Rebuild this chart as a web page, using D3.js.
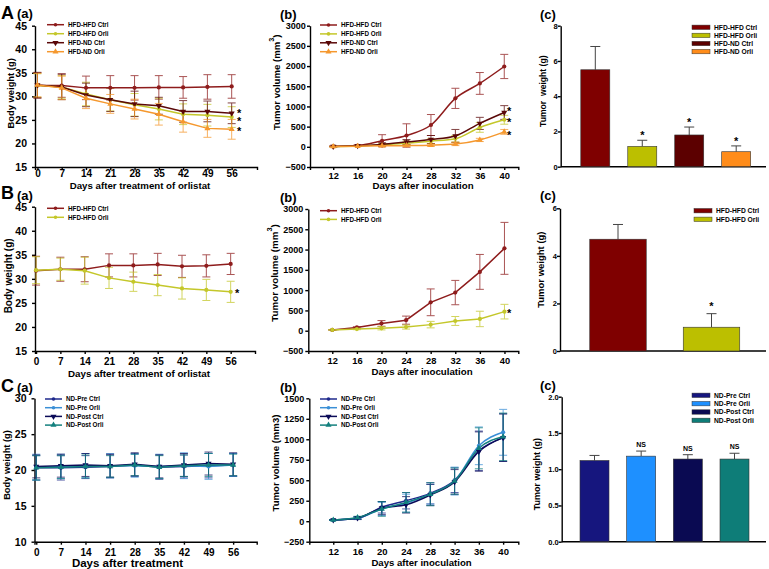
<!DOCTYPE html>
<html><head><meta charset="utf-8">
<script src="https://cdn.jsdelivr.net/npm/d3@7"></script>
<style>body{margin:0;background:#fff}svg{display:block}text{font-family:"Liberation Sans",Arial,Helvetica,sans-serif}</style>
</head><body><svg id="c" width="769" height="569"></svg>
<script>
// ---------- DATA ----------
const treatDays = [0, 7, 14, 21, 28, 35, 42, 49, 56];
const inocDays = [12, 16, 20, 24, 28, 32, 36, 40];
const weightTicksAB = [15, 20, 25, 30, 35, 40, 45];
const volumeTicksAB = [-500, 0, 500, 1000, 1500, 2000, 2500, 3000];
const weightTicksC = [10, 15, 20, 25, 30];
const volumeTicksC = [-250, 0, 250, 500, 750, 1000, 1250, 1500];
const tumorWTicksA = [0, 2, 4, 6, 8];
const tumorWTicksB = [0, 2, 4, 6];
const tumorWTicksC = [0, 0.5, 1.0, 1.5, 2.0];

const groupsHFD = ["HFD-HFD Ctrl", "HFD-HFD Orli", "HFD-ND Ctrl", "HFD-ND Orli"];
const groupsHFD2 = ["HFD-HFD Ctrl", "HFD-HFD Orli"];
const groupsND = ["ND-Pre Ctrl", "ND-Pre Orli", "ND-Post Ctrl", "ND-Post Orli"];

// A(a) body weight
const aW_hhCtrl = [32.3, 32.3, 31.8, 31.8, 31.8, 31.9, 31.9, 32.0, 32.1];
const aW_hhCtrlErr = [2.7, 2.5, 2.5, 2.6, 2.6, 2.5, 2.3, 2.6, 2.5];
const aW_hhOrli = [32.3, 32.0, 30.5, 29.3, 28.2, 27.3, 26.2, 26.0, 25.6];
const aW_hhOrliErr = [2.5, 2.4, 2.5, 2.4, 2.4, 2.3, 2.2, 2.3, 2.2];
const aW_hnCtrl = [32.4, 32.0, 30.3, 29.3, 28.4, 28.0, 26.8, 26.8, 26.4];
const aW_hnCtrlErr = [2.7, 2.7, 2.5, 2.5, 2.7, 1.8, 2.3, 2.2, 2.2];
const aW_hnOrli = [32.4, 31.8, 29.6, 28.4, 27.3, 26.2, 24.6, 23.2, 23.0];
const aW_hnOrliErr = [2.5, 2.5, 2.2, 2.0, 2.1, 2.3, 2.2, 1.9, 2.1];
const aW_stars = [26.7, 25.0, 22.9];

// A(b) tumour volume
const aV_hhCtrl = [10, 30, 150, 280, 540, 1200, 1570, 1990];
const aV_hhCtrlErr = [10, 20, 150, 290, 260, 250, 270, 300];
const aV_hhOrli = [5, 20, 50, 90, 140, 200, 480, 670];
const aV_hhOrliErr = [5, 10, 30, 50, 60, 80, 120, 110];
const aV_hnCtrl = [10, 25, 60, 120, 180, 270, 580, 850];
const aV_hnCtrlErr = [5, 10, 40, 60, 100, 160, 150, 170];
const aV_hnOrli = [5, 15, 25, 30, 40, 70, 170, 370];
const aV_hnOrliErr = [5, 10, 20, 20, 30, 40, 40, 60];
const aV_stars = [912, 647, 335];

// A(c) tumour weight
const aT_values = [5.5, 1.15, 1.8, 0.85];
const aT_errors = [1.32, 0.35, 0.45, 0.33];
const aT_marks = ["", "*", "*", "*"];

// B(a)
const bW_ctrl = [31.7, 32.0, 32.0, 32.8, 32.8, 33.0, 32.6, 32.7, 33.1];
const bW_ctrlErr = [3.0, 2.5, 2.6, 2.4, 2.4, 2.3, 2.3, 2.3, 2.2];
const bW_orli = [31.8, 32.0, 31.7, 30.2, 29.4, 28.7, 28.0, 27.7, 27.3];
const bW_orliErr = [2.8, 2.3, 2.8, 2.2, 2.0, 2.2, 2.2, 2.2, 2.2];
const bW_stars = [27.3];

// B(b)
const bV_ctrl = [20, 80, 180, 260, 700, 940, 1450, 2030];
const bV_ctrlErr = [10, 20, 70, 100, 330, 300, 430, 640];
const bV_orli = [20, 40, 60, 90, 150, 240, 290, 470];
const bV_orliErr = [10, 15, 40, 50, 80, 110, 190, 180];
const bV_stars = [470];

// B(c)
const bT_values = [4.7, 1.0];
const bT_errors = [0.62, 0.57];
const bT_marks = ["", "*"];

// C(a)
const cW_preCtrl = [20.3, 20.3, 20.4, 20.5, 20.7, 20.4, 20.5, 20.6, 20.7];
const cW_preCtrlErr = [1.7, 1.7, 1.6, 1.6, 1.6, 1.7, 1.6, 1.7, 1.6];
const cW_preOrli = [20.4, 20.5, 20.6, 20.6, 20.6, 20.5, 20.6, 20.5, 20.7];
const cW_preOrliErr = [1.8, 1.7, 1.7, 1.7, 1.6, 1.7, 1.8, 1.8, 1.6];
const cW_postCtrl = [20.5, 20.6, 20.7, 20.6, 20.8, 20.5, 20.7, 20.9, 20.8];
const cW_postCtrlErr = [1.6, 1.6, 1.6, 1.6, 1.6, 1.6, 1.6, 1.6, 1.6];
const cW_postOrli = [20.3, 20.4, 20.5, 20.5, 20.7, 20.4, 20.6, 20.7, 20.7];
const cW_postOrliErr = [1.7, 1.6, 1.6, 1.5, 1.5, 1.6, 1.5, 1.6, 1.5];

// C(b)
const cV_preCtrl = [15, 35, 170, 250, 340, 500, 860, 1020];
const cV_preCtrlErr = [5, 15, 70, 100, 130, 150, 240, 290];
const cV_preOrli = [15, 40, 150, 220, 330, 490, 920, 1085];
const cV_preOrliErr = [5, 15, 80, 110, 120, 170, 230, 280];
const cV_postCtrl = [15, 40, 160, 200, 320, 480, 850, 1020];
const cV_postCtrlErr = [5, 15, 80, 100, 130, 150, 240, 290];
const cV_postOrli = [15, 45, 150, 230, 330, 490, 890, 1030];
const cV_postOrliErr = [5, 15, 90, 120, 140, 160, 250, 290];

// C(c)
const cT_values = [1.12, 1.18, 1.14, 1.14];
const cT_errors = [0.07, 0.07, 0.06, 0.08];
const cT_marks = ["", "NS", "NS", "NS"];

// ---------- STYLE ----------
const lineColHFD = ["#8e1c1c", "#c4c72a", "#5a0808", "#f5982e"];
const markHFD = ["circle", "circle", "down", "up"];
const barColHFD = ["#7f0000", "#bcbf00", "#5c0000", "#ff8c1a"];
const lineColND = ["#1f2a8c", "#3a8fd6", "#0b0b58", "#13807e"];
const markND = ["circle", "circle", "down", "up"];
const barColND = ["#16167e", "#1e90ff", "#0a0a52", "#0e7d78"];

const svg = d3.select("#c");
const FONT = '"Liberation Sans", Arial, Helvetica, sans-serif';

function styleAxis(g, fs) {
  g.selectAll("path,line").attr("stroke", "#000").attr("stroke-width", 1.4);
  g.selectAll("text").attr("font-size", fs).attr("font-weight", "bold").attr("fill", "#000").attr("font-family", FONT);
}
function marker(g, m, cx, cy, color, sz) {
  if (m === "circle") {
    g.append("circle").attr("cx", cx).attr("cy", cy).attr("r", sz === undefined ? 2.1 : sz).attr("fill", color);
  } else {
    g.append("path").attr("d", d3.symbol(d3.symbolTriangle, 16)())
      .attr("transform", `translate(${cx},${cy})` + (m === "down" ? " rotate(180)" : ""))
      .attr("fill", color);
  }
}
function text(x, y, s, fs, opts = {}) {
  const t = svg.append("text").attr("x", x).attr("y", y).attr("font-size", fs)
    .attr("font-weight", opts.weight || "bold").attr("fill", "#000")
    .attr("text-anchor", opts.anchor || "start").style("white-space", "pre").text(s);
  return t;
}
function yLabel(x, y, s, fs, sup) {
  const t = svg.append("text").attr("transform", `translate(${x},${y}) rotate(-90)`)
    .attr("font-size", fs).attr("font-weight", "bold").attr("text-anchor", "middle")
    .attr("dominant-baseline", "central").style("white-space", "pre");
  if (sup) {
    t.append("tspan").text(s);
    t.append("tspan").attr("baseline-shift", "super").attr("font-size", fs * 0.75).text(sup);
    t.append("tspan").text(")");
  } else t.text(s);
}

function linePanel(c) {
  const x = d3.scaleLinear().domain(c.xd).range(c.xr);
  const y = d3.scaleLinear().domain(c.yd).range(c.yr);
  const g = svg.append("g");
  const gx = g.append("g").attr("transform", `translate(0,${c.yr[0]})`)
    .call(d3.axisBottom(x).tickValues(c.xTicks).tickFormat(d3.format("d")).tickSize(3).tickSizeOuter(3).tickPadding(c.xPad));
  styleAxis(gx, c.xfs);
  const gy = g.append("g").attr("transform", `translate(${c.xr[0]},0)`)
    .call(d3.axisLeft(y).tickValues(c.yTicks).tickFormat(d3.format("d")).tickSize(3).tickSizeOuter(0).tickPadding(c.yPad));
  styleAxis(gy, c.yfs);

  const series = c.names.map((n, i) => ({
    name: n, color: c.colors[i], mark: c.marks[i],
    pts: c.days.map((d, j) => ({ d, v: c.values[i][j], e: c.errors[i][j] }))
  }));
  series.forEach(s => {
    const eb = g.append("g").attr("stroke", s.color).attr("stroke-width", 1).attr("opacity", 0.75);
    s.pts.forEach(p => {
      const xx = x(p.d), y1 = y(p.v + p.e), y2 = y(p.v - p.e);
      eb.append("line").attr("x1", xx).attr("x2", xx).attr("y1", y1).attr("y2", y2);
      eb.append("line").attr("x1", xx - 4).attr("x2", xx + 4).attr("y1", y1).attr("y2", y1);
      eb.append("line").attr("x1", xx - 4).attr("x2", xx + 4).attr("y1", y2).attr("y2", y2);
    });
  });
  const line = d3.line().x(p => x(p.d)).y(p => y(p.v)).curve(c.curve);
  series.forEach(s => {
    g.append("path").attr("d", line(s.pts)).attr("fill", "none").attr("stroke", s.color).attr("stroke-width", 1.5);
  });
  series.forEach(s => s.pts.forEach(p => marker(g, s.mark, x(p.d), y(p.v), s.color)));

  // legend
  series.forEach((s, i) => {
    const ly = c.leg.y + i * c.leg.dy;
    g.append("line").attr("x1", c.leg.x).attr("x2", c.leg.x + 17).attr("y1", ly).attr("y2", ly)
      .attr("stroke", s.color).attr("stroke-width", 1.5);
    marker(g, s.mark, c.leg.x + 8.5, ly, s.color, 1.8);
    text(c.leg.x + 21, ly + c.leg.fs * 0.36, s.name, c.leg.fs);
  });
  // stars
  (c.stars || []).forEach(v => text(c.starX, y(v) + 5.5, "*", 11));
  // labels
  text(c.xl.x, c.xl.y, c.xl.text, c.xl.fs, { anchor: "middle" });
  yLabel(c.yl.x, (c.yr[0] + c.yr[1]) / 2 + (c.yl.dy || 0), c.yl.text, c.yl.fs, c.yl.sup);
}

function barPanel(c) {
  const y = d3.scaleLinear().domain(c.yd).range(c.yr);
  const x = d3.scalePoint().domain(c.names).range(c.centers);
  const g = svg.append("g");
  const gy = g.append("g").attr("transform", `translate(${c.x0},0)`)
    .call(d3.axisLeft(y).tickValues(c.yTicks).tickSize(3).tickSizeOuter(0).tickPadding(c.yPad).tickFormat(c.fmt));
  styleAxis(gy, c.yfs);
  g.append("line").attr("x1", c.x0).attr("x2", c.xEnd).attr("y1", c.yr[0]).attr("y2", c.yr[0])
    .attr("stroke", "#000").attr("stroke-width", 1.4);
  c.names.forEach((n, i) => {
    const cx = x(n), v = c.values[i], e = c.errors[i];
    const et = y(v + e);
    g.append("line").attr("x1", cx).attr("x2", cx).attr("y1", y(v)).attr("y2", et).attr("stroke", "#444").attr("stroke-width", 1);
    g.append("line").attr("x1", cx - 5).attr("x2", cx + 5).attr("y1", et).attr("y2", et).attr("stroke", "#444").attr("stroke-width", 1);
    g.append("rect").attr("x", cx - c.w / 2).attr("y", y(v)).attr("width", c.w).attr("height", c.yr[0] - y(v))
      .attr("fill", c.colors[i]).attr("stroke", "#333").attr("stroke-width", 0.6);
    if (c.marks[i]) text(cx, et - c.markGap, c.marks[i], c.marks[i] === "*" ? 11 : 7, { anchor: "middle" });
  });
  c.names.forEach((n, i) => {
    const ly = c.leg.y + i * c.leg.dy;
    g.append("rect").attr("x", c.leg.x).attr("y", ly - 2.2).attr("width", 18).attr("height", 4.4)
      .attr("fill", c.colors[i]).attr("stroke", "#333").attr("stroke-width", 0.5);
    text(c.leg.x + 22, ly + c.leg.fs * 0.36, n, c.leg.fs);
  });
  yLabel(c.yl.x, (c.yr[0] + c.yr[1]) / 2 + (c.yl.dy || 0), c.yl.text, c.yl.fs);
}

// ---------- ROW A ----------
linePanel({
  xr: [35, 257], xd: [-0.7, 63.3], yr: [167, 25.7], yd: [15, 45],
  xTicks: treatDays, yTicks: weightTicksAB, xPad: 0, yPad: 5, xfs: 10, yfs: 10.5,
  days: treatDays, names: groupsHFD, colors: lineColHFD, marks: markHFD,
  values: [aW_hhCtrl, aW_hhOrli, aW_hnCtrl, aW_hnOrli],
  errors: [aW_hhCtrlErr, aW_hhOrliErr, aW_hnCtrlErr, aW_hnOrliErr],
  curve: d3.curveLinear, stars: aW_stars, starX: 237,
  leg: { x: 47, y: 24.7, dy: 9, fs: 6.3 },
  xl: { x: 140, y: 189, text: "Days after treatment of orlistat", fs: 9.7 },
  yl: { x: 10, text: "Body weight (g)", fs: 9.4, dy: -3 }
});
linePanel({
  xr: [310, 518.3], xd: [8.2, 42.3], yr: [167, 25.7], yd: [-500, 3000],
  xTicks: inocDays, yTicks: volumeTicksAB, xPad: 2, yPad: 1.3, xfs: 9.3, yfs: 9,
  days: inocDays, names: groupsHFD, colors: lineColHFD, marks: markHFD,
  values: [aV_hhCtrl, aV_hhOrli, aV_hnCtrl, aV_hnOrli],
  errors: [aV_hhCtrlErr, aV_hhOrliErr, aV_hnCtrlErr, aV_hnOrliErr],
  curve: d3.curveMonotoneX, stars: aV_stars, starX: 507,
  leg: { x: 320, y: 25, dy: 8.9, fs: 6.3 },
  xl: { x: 423, y: 188.5, text: "Days after inoculation", fs: 9.7 },
  yl: { x: 276, text: "Tumor volume (mm", fs: 9.6, sup: "3", dy: -14 }
});
barPanel({
  x0: 560.7, xEnd: 766, yr: [166.7, 25.7], yd: [0, 8], yTicks: tumorWTicksA, yPad: 0, yfs: 7.5,
  fmt: d3.format("d"), names: groupsHFD, colors: barColHFD, centers: [595.3, 736.2], w: 29,
  values: aT_values, errors: aT_errors, marks: aT_marks, markGap: 1,
  leg: { x: 692, y: 27.3, dy: 8.1, fs: 6.7 },
  yl: { x: 543, text: "Tumor  weight (g)", fs: 8.6, dy: -5 }
});

// ---------- ROW B ----------
linePanel({
  xr: [35, 255], xd: [-0.3, 63], yr: [351, 206.7], yd: [15, 45],
  xTicks: treatDays, yTicks: weightTicksAB, xPad: 4, yPad: 5, xfs: 10, yfs: 10.5,
  days: treatDays, names: groupsHFD2, colors: lineColHFD.slice(0, 2), marks: markHFD.slice(0, 2),
  values: [bW_ctrl, bW_orli], errors: [bW_ctrlErr, bW_orliErr],
  curve: d3.curveLinear, stars: bW_stars, starX: 235,
  leg: { x: 47, y: 208.3, dy: 9, fs: 6.3 },
  xl: { x: 139, y: 377, text: "Days after treatment of orlistat", fs: 9.8 },
  yl: { x: 8.5, text: "Body weight (g)", fs: 10, dy: -3 }
});
linePanel({
  xr: [308.3, 518.3], xd: [8.1, 42.25], yr: [351, 209], yd: [-500, 3000],
  xTicks: inocDays, yTicks: volumeTicksAB, xPad: 3.5, yPad: 2, xfs: 9.3, yfs: 9,
  days: inocDays, names: groupsHFD2, colors: lineColHFD.slice(0, 2), marks: markHFD.slice(0, 2),
  values: [bV_ctrl, bV_orli], errors: [bV_ctrlErr, bV_orliErr],
  curve: d3.curveLinear, stars: bV_stars, starX: 507,
  leg: { x: 320, y: 210.7, dy: 8.7, fs: 6.3 },
  xl: { x: 422, y: 374.5, text: "Days after inoculation", fs: 9.7 },
  yl: { x: 273.5, text: "Tumor volume (mm", fs: 9.8, sup: "3", dy: -7 }
});
barPanel({
  x0: 560, xEnd: 766, yr: [351, 208.3], yd: [0, 6], yTicks: tumorWTicksB, yPad: 0, yfs: 7.5,
  fmt: d3.format("d"), names: groupsHFD2, colors: barColHFD.slice(0, 2), centers: [618, 711.5], w: 56.5,
  values: bT_values, errors: bT_errors, marks: bT_marks, markGap: 4,
  leg: { x: 694, y: 210.7, dy: 8.6, fs: 6.7 },
  yl: { x: 540, text: "Tumor weight (g)", fs: 9.5, dy: -10 }
});

// ---------- ROW C ----------
linePanel({
  xr: [34.5, 256.7], xd: [-0.5, 62.7], yr: [541.7, 398.3], yd: [10, 30],
  xTicks: treatDays, yTicks: weightTicksC, xPad: 4, yPad: 5, xfs: 10, yfs: 10.5,
  days: treatDays, names: groupsND, colors: lineColND, marks: markND,
  values: [cW_preCtrl, cW_preOrli, cW_postCtrl, cW_postOrli],
  errors: [cW_preCtrlErr, cW_preOrliErr, cW_postCtrlErr, cW_postOrliErr],
  curve: d3.curveLinear,
  leg: { x: 45, y: 399, dy: 8.7, fs: 6.3 },
  xl: { x: 127.5, y: 567, text: "Days after treatment", fs: 11.5 },
  yl: { x: 7, text: "Body weight (g)", fs: 9.3, dy: -5 }
});
linePanel({
  xr: [309.3, 518.3], xd: [8.05, 42.5], yr: [541.7, 398.3], yd: [-250, 1500],
  xTicks: inocDays, yTicks: volumeTicksC, xPad: 3.7, yPad: 2, xfs: 9.5, yfs: 9,
  days: inocDays, names: groupsND, colors: lineColND, marks: markND,
  values: [cV_preCtrl, cV_preOrli, cV_postCtrl, cV_postOrli],
  errors: [cV_preCtrlErr, cV_preOrliErr, cV_postCtrlErr, cV_postOrliErr],
  curve: d3.curveMonotoneX,
  leg: { x: 320, y: 399, dy: 8.7, fs: 6.3 },
  xl: { x: 421.5, y: 566, text: "Days after inoculation", fs: 9.6 },
  yl: { x: 275, text: "Tumor volume (mm3)", fs: 9.6, dy: -7 }
});
barPanel({
  x0: 561.7, xEnd: 766, yr: [541.7, 396.7], yd: [0, 2], yTicks: tumorWTicksC, yPad: 0, yfs: 7.5,
  fmt: d3.format(".1f"), names: groupsND, colors: barColND, centers: [594.5, 734.5], w: 29,
  values: cT_values, errors: cT_errors, marks: cT_marks, markGap: 4,
  leg: { x: 692, y: 395.3, dy: 8.35, fs: 6.7 },
  yl: { x: 537, text: "Tumor weight (g)", fs: 9, dy: 5 }
});

// ---------- PANEL LETTERS ----------
text(1, 18.5, "A", 18);
text(17, 18, "(a)", 13);
text(280, 19, "(b)", 13);
text(540, 19, "(c)", 13);
text(1, 199, "B", 18);
text(17, 199.5, "(a)", 13);
text(280, 202, "(b)", 13);
text(540, 200, "(c)", 13);
text(1, 392, "C", 18);
text(17, 391.5, "(a)", 13);
text(280, 391.5, "(b)", 13);
text(540, 390, "(c)", 13);
</script></body></html>
